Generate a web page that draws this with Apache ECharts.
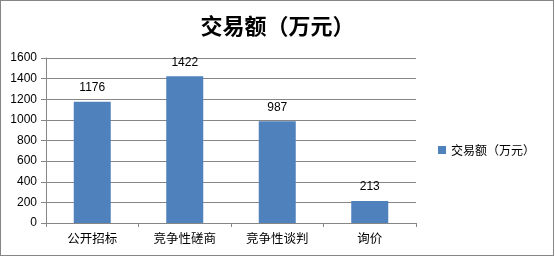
<!DOCTYPE html>
<html><head><meta charset="utf-8">
<script src="https://cdn.jsdelivr.net/npm/echarts@6/dist/echarts.min.js"></script>
<style>
html,body{margin:0;padding:0;background:#fff;}
#frame{position:absolute;left:0;top:0;width:554px;height:256px;box-sizing:border-box;border:1px solid #868686;}
#c{position:absolute;left:0;top:0;width:555px;height:257px;}
</style></head>
<body>
<div id="c"></div>
<div id="frame"></div>
<script>
const titleText = '交易额（万元）';
const seriesName = '交易额（万元）';
const categories = ['公开招标', '竞争性磋商', '竞争性谈判', '询价'];
const values = [1176, 1422, 987, 213];
const yTicks = { min: 0, max: 1600, interval: 200 };

const font = "'Liberation Sans','Noto Sans CJK SC',sans-serif";
const chart = echarts.init(document.getElementById('c'), null, { renderer: 'canvas' });
chart.setOption({
  animation: false,
  title: {
    text: titleText, left: 'center', top: 10,
    textStyle: { fontFamily: "'Noto Sans CJK SC',sans-serif", fontSize: 22, fontWeight: 'bold', color: '#000' }
  },
  legend: {
    data: [seriesName], left: 433, top: 139, itemWidth: 8, itemHeight: 8, icon: 'rect',
    textStyle: { fontFamily: "'Noto Sans CJK SC',sans-serif", fontSize: 12, color: '#000' }
  },
  grid: { left: 46, right: 139, top: 58, bottom: 34, containLabel: false },
  xAxis: {
    type: 'category', data: categories, boundaryGap: true,
    axisLine: { lineStyle: { color: '#868686' } },
    axisTick: { show: true, length: 4, alignWithLabel: false, lineStyle: { color: '#868686' } },
    axisLabel: { color: '#000', fontFamily: "'Noto Sans CJK SC',sans-serif", fontSize: 12.5, margin: 9 }
  },
  yAxis: {
    type: 'value', min: yTicks.min, max: yTicks.max, interval: yTicks.interval,
    axisLine: { show: true, lineStyle: { color: '#868686' } },
    axisTick: { show: true, length: 5, lineStyle: { color: '#868686' } },
    axisLabel: { color: '#000', fontFamily: font, fontSize: 12, margin: 9, formatter: v => String(v) },
    splitLine: { show: true, lineStyle: { color: '#868686' } }
  },
  series: [{
    name: seriesName, type: 'bar', data: values, barWidth: 37,
    itemStyle: { color: '#4F81BD' },
    label: { show: true, position: 'top', distance: 8, color: '#000', fontFamily: font, fontSize: 12 }
  }]
});
</script>
</body></html>
